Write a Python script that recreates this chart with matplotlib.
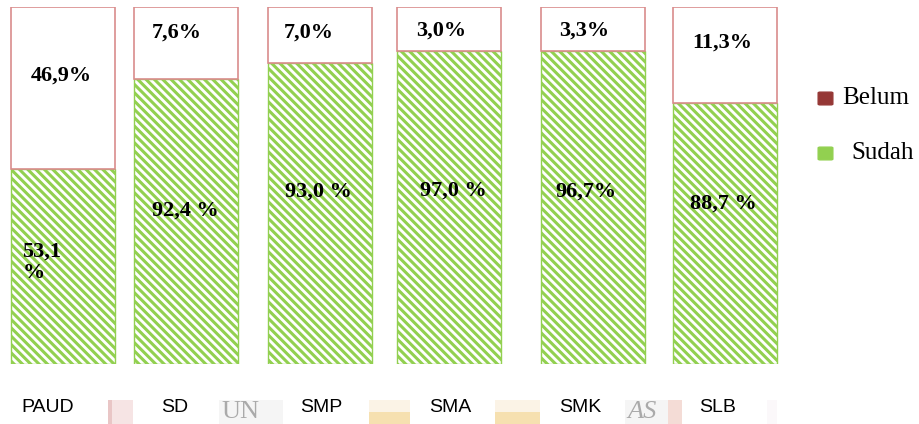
import matplotlib.pyplot as plt
from matplotlib.patches import FancyBboxPatch, Rectangle

# data
kategori = ['PAUD', 'SD', 'SMP', 'SMA', 'SMK', 'SLB']
sudah_lbl = ['53,1\n%', '92,4 %', '93,0 %', '97,0 %', '96,7%', '88,7 %']
belum_lbl = ['46,9%', '7,6%', '7,0%', '3,0%', '3,3%', '11,3%']
# tinggi segmen seperti yang tergambar (persen dari tinggi batang)
sudah_h = [54.7, 79.8, 84.3, 87.6, 87.7, 73.1]
belum_h = [45.3, 20.2, 15.7, 12.4, 12.3, 26.9]

hijau = '#92D050'
merah = '#953735'
garis_merah = '#D98C8C'

plt.rcParams['hatch.linewidth'] = 2.2

fig = plt.figure(figsize=(9.19, 4.24), dpi=100)
W, H = 919, 424

# sisa watermark samar di bagian bawah gambar asli
def kotak(x0, x1, y0, y1, warna):
    fig.add_artist(Rectangle((x0 / W, (H - y1) / H), (x1 - x0) / W, (y1 - y0) / H,
                             transform=fig.transFigure, facecolor=warna,
                             edgecolor='none', zorder=0))

kotak(108, 133, 400, 424, '#F6E4E4')
kotak(108, 112, 400, 424, '#E9C6C6')
kotak(219, 283, 400, 424, '#F5F5F5')
kotak(369, 410, 400, 424, '#FBF3E6')
kotak(369, 410, 412, 424, '#F6E0B0')
kotak(495, 540, 400, 424, '#FBF3E6')
kotak(495, 540, 412, 424, '#F6E0B0')
kotak(625, 668, 400, 424, '#F5F5F5')
kotak(668, 682, 400, 424, '#F4DCD6')
kotak(767, 777, 400, 424, '#FBF8FA')
fig.text(221 / W, (H - 412) / H, 'UN', fontsize=19, color='#AAAAAA',
         family=['Liberation Serif'], va='center', ha='left', zorder=0)
fig.text(627 / W, (H - 412) / H, 'AS', fontsize=19, color='#AAAAAA',
         family=['Liberation Serif'], style='italic', va='center', ha='left', zorder=0)

ax = fig.add_axes([0, 60 / 424, 1, 357 / 424])
ax.patch.set_alpha(0)

# geser posisi tiap batang sedikit (tata letak aslinya tidak rata)
geser = [0.05, -0.03, -0.02, -0.05, 0.03, 0.02]
x = [i + g for i, g in enumerate(geser)]

ax.bar(x, sudah_h, width=0.78, color='white', edgecolor=hijau,
       hatch='\\\\\\\\', linewidth=1.0)
ax.bar(x, belum_h, bottom=sudah_h, width=0.78, color='white',
       edgecolor=garis_merah, linewidth=1.2)

ax.set_xlim(-0.424, 6.475)
ax.set_ylim(0, 100)
ax.axis('off')

serif = ['Liberation Serif', 'DejaVu Serif']

# posisi label
sudah_x = [-0.11, 0.965, 1.97, 2.98, 3.975, 5.01]
sudah_y = [28.6, 42.9, 48.2, 48.7, 48.2, 44.8]
belum_x = [0.04, 0.90, 1.895, 2.89, 3.96, 5.0]
belum_y = [80.7, 92.7, 92.7, 93.3, 93.3, 90.0]
kat_x = [-0.064, 0.89, 1.99, 2.955, 3.93, 4.96]

for i in range(len(kategori)):
    ax.text(sudah_x[i], sudah_y[i], sudah_lbl[i], ha='center', va='center',
            fontsize=16, fontweight='bold', family=serif, linespacing=1.1,
            multialignment='left')
    ax.text(belum_x[i], belum_y[i], belum_lbl[i], ha='center', va='center',
            fontsize=16, fontweight='bold', family=serif)
    ax.text(kat_x[i], -12.3, kategori[i], ha='center', va='center', fontsize=14,
            family=['Liberation Sans Narrow', 'Liberation Sans', 'DejaVu Sans'],
            clip_on=False)

# legenda
for (nama, warna, yy, xx) in [('Belum', merah, 98, 842), ('Sudah', hijau, 153, 851)]:
    fig.add_artist(FancyBboxPatch((820 / W, (H - yy - 6) / H), 11 / W, 11 / H,
                                  boxstyle='round,pad=0.002', transform=fig.transFigure,
                                  facecolor=warna, edgecolor=warna))
    fig.text(xx / W, (H - yy) / H, nama, fontsize=18, family=serif,
             ha='left', va='center')

fig.savefig('out.png', dpi=100)
